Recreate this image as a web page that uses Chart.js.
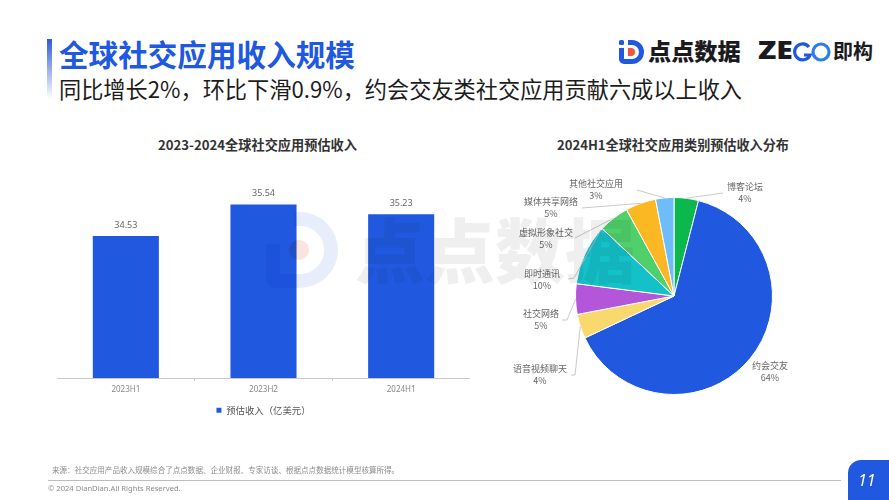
<!DOCTYPE html>
<html lang="zh">
<head>
<meta charset="utf-8">
<title>全球社交应用收入规模</title>
<script src="https://cdn.jsdelivr.net/npm/chart.js@4"></script>
<style>
  html, body { margin:0; padding:0; background:#fff; }
  body { width:889px; height:500px; position:relative; overflow:hidden; font-family:"Noto Sans CJK SC","Noto Sans",sans-serif; }
  .abs { position:absolute; white-space:nowrap; line-height:1; }
  #accent { left:47px; top:39px; width:5px; height:60px; background:linear-gradient(#2f5bd8,rgba(47,91,216,0)); }
  #title { left:59px; top:39px; font-size:29.6px; font-weight:700; color:#2058e0; }
  #subtitle { left:59px; top:77px; font-size:22.2px; color:#1c1c1c; }
  #barTitle { left:158px; top:138px; font-size:13.2px; font-weight:700; color:#333; }
  #pieTitle { left:557px; top:138px; font-size:13.1px; font-weight:700; color:#333; }
  #barBox { position:absolute; left:57px; top:134px; width:413px; height:291px; }
  #pieBox { position:absolute; left:459px; top:132px; width:430px; height:328px; }
  #mark { position:absolute; left:0; top:0; width:889px; height:500px; mix-blend-mode:multiply; pointer-events:none; }
  #markText { left:355px; top:213px; font-size:70px; font-weight:900; color:#efefef; }
  #source { left:52px; top:466px; font-size:7.56px; color:#8c8c8c; }
  #rule { left:48px; top:480px; width:793px; height:1px; background:#bdbdbd; }
  #copy { left:48px; top:485px; font-size:7.6px; color:#8c8c8c; font-family:"Noto Sans",sans-serif; }
  #tab { left:848px; top:460px; width:41px; height:40px; background:#2058e0; border-top-left-radius:13px; }
  #page { left:858px; top:472px; font-size:16px; font-style:italic; color:#fff; font-family:"Noto Sans",sans-serif; }
  #brandA { left:648px; top:39px; font-size:23.2px; font-weight:900; color:#1b1b1f; }
  #brandB { left:758px; top:38px; font-size:24px; font-weight:900; color:#1b1b1f; font-family:"Noto Sans",sans-serif; transform:scaleX(1.25); transform-origin:left center; }
  #brandC { left:833px; top:41px; font-size:20px; font-weight:700; color:#1b1b1f; }
</style>
</head>
<body>
<div id="accent" class="abs"></div>
<div id="title" class="abs">全球社交应用收入规模</div>
<div id="subtitle" class="abs">同比增长2%，环比下滑0.9%，约会交友类社交应用贡献六成以上收入</div>

<svg class="abs" style="left:617px;top:38px" width="29" height="28" viewBox="0 0 29 28">
  <path d="M11 2h4a12 12 0 0 1 0 24H7a5 5 0 0 1-5-5V10h5v11h8a7 7 0 0 0 0-14h-4z" fill="#2058e0"/>
  <rect x="2" y="2" width="5" height="5" rx="1.5" fill="#2058e0"/>
  <path d="M11 10h3a4 4 0 0 1 0 8h-3z" fill="#f0563f"/>
</svg>
<div id="brandA" class="abs">点点数据</div>
<div id="brandB" class="abs">ZE</div>
<svg class="abs" style="left:792px;top:41px" width="40" height="22" viewBox="0 0 40 22">
  <path d="M17 6a8 8 0 1 0 1 8h-6" fill="none" stroke="#2058e0" stroke-width="3.2"/>
  <circle cx="29" cy="11" r="8" fill="none" stroke="#2f7de8" stroke-width="3.2"/>
</svg>
<div id="brandC" class="abs">即构</div>

<div id="barTitle" class="abs">2023-2024全球社交应用预估收入</div>
<div id="pieTitle" class="abs">2024H1全球社交应用类别预估收入分布</div>
<div id="barBox"><canvas id="barChart"></canvas></div>
<div id="pieBox"><canvas id="pieChart"></canvas></div>

<div id="mark">
  <svg class="abs" style="left:260px;top:208px" width="82" height="84" viewBox="0 0 82 84">
    <path d="M34 4h6a38 38 0 0 1 0 76H16a10 10 0 0 1-10-10V36h14v30h20a24 24 0 0 0 0-48h-6z" fill="#e7edfb"/>
    <circle cx="39" cy="42" r="10" fill="#fbe3df"/>
  </svg>
  <div id="markText" class="abs">点点数据</div>
</div>

<div id="source" class="abs">来源：社交应用产品收入规模综合了点点数据、企业财报、专家访谈、根据点点数据统计模型核算所得。</div>
<div id="rule" class="abs"></div>
<div id="copy" class="abs">© 2024 DianDian.All Rights Reserved.</div>
<div id="tab" class="abs"></div>
<div id="page" class="abs">11</div>

<script>
const barCategories = ['2023H1', '2023H2', '2024H1'];
const barValues = [34.53, 35.54, 35.23];
const barSeriesName = '预估收入（亿美元）';
const pieCategories = ['博客论坛', '约会交友', '语音视频聊天', '社交网络', '即时通讯', '虚拟形象社交', '媒体共享网络', '其他社交应用'];
const pieValues = [4, 64, 4, 5, 10, 5, 5, 3];
const pieColors = ['#0cb84b', '#2058e0', '#f9d86e', '#b456d9', '#14c1c9', '#4fd06b', '#fbb822', '#6fbdf8'];

// label spots relative to the pie centre; leader runs from arc (frac along slice) via pts
const pieLabelLayout = [
  { x:71,   y:-109, frac:.5,  pts:[[49,-103]] },
  { x:96,   y:70,   frac:.5,  pts:[] },
  { x:-134, y:73,   frac:.5,  pts:[[-99,79],[-103,79]] },
  { x:-133, y:18,   frac:.5,  pts:[[-107,24],[-112,24]] },
  { x:-132, y:-22,  frac:.97, pts:[[-100,-18],[-106,-17]] },
  { x:-128, y:-63,  frac:.5,  pts:[[-99,-58]] },
  { x:-123, y:-94,  frac:.5,  pts:[[-92,-88]] },
  { x:-78,  y:-112, frac:.5,  pts:[[-37,-106]] },
];

const barLabels = {
  id:'barLabels',
  afterDatasetsDraw(chart){
    const ctx = chart.ctx;
    ctx.save();
    ctx.font = '9px "Noto Sans"';
    ctx.fillStyle = '#666';
    ctx.textAlign = 'center';
    ctx.textBaseline = 'bottom';
    chart.getDatasetMeta(0).data.forEach((bar, i) => {
      ctx.fillText(barValues[i].toFixed(2), bar.x, bar.y - 6);
    });
    ctx.restore();
  }
};

const pieLeaders = {
  id:'pieLeaders',
  afterDatasetsDraw(chart){
    const ctx = chart.ctx;
    const arcs = chart.getDatasetMeta(0).data;
    ctx.save();
    ctx.font = '9px "Noto Sans CJK SC"';
    ctx.textAlign = 'center';
    ctx.textBaseline = 'middle';
    arcs.forEach((arc, i) => {
      const l = pieLabelLayout[i];
      const a = arc.startAngle + (arc.endAngle - arc.startAngle) * l.frac;
      if (l.pts.length) {
        ctx.strokeStyle = '#bdbdbd';
        ctx.lineWidth = 0.8;
        ctx.beginPath();
        ctx.moveTo(arc.x + Math.cos(a) * arc.outerRadius, arc.y + Math.sin(a) * arc.outerRadius);
        l.pts.forEach(p => ctx.lineTo(arc.x + p[0], arc.y + p[1]));
        ctx.stroke();
      }
      ctx.fillStyle = '#666';
      ctx.fillText(pieCategories[i], arc.x + l.x, arc.y + l.y);
      ctx.fillText(pieValues[i] + '%', arc.x + l.x, arc.y + l.y + 11.5);
    });
    ctx.restore();
  }
};

Chart.defaults.animation = false;
Chart.defaults.font.family = '"Noto Sans CJK SC","Noto Sans",sans-serif';

new Chart(document.getElementById('barChart'), {
  type:'bar',
  data:{ labels:barCategories, datasets:[{ label:barSeriesName, data:barValues, backgroundColor:'#2058e0', barPercentage:0.96, categoryPercentage:0.5 }] },
  options:{
    responsive:true, maintainAspectRatio:false,
    layout:{ padding:{ top:56 } },
    plugins:{
      legend:{ display:true, position:'bottom', labels:{ color:'#555', font:{ size:9.4 }, boxWidth:5, boxHeight:5, padding:7 } },
      tooltip:{ enabled:false },
    },
    scales:{
      x:{ grid:{ drawOnChartArea:false, color:'#c9c9c9', tickLength:3 }, border:{ color:'#c9c9c9' }, ticks:{ color:'#888', font:{ size:8, family:'"Noto Sans"' }, padding:4 } },
      y:{ display:false, min:30, max:36 },
    },
  },
  plugins:[barLabels],
});

new Chart(document.getElementById('pieChart'), {
  type:'pie',
  data:{ labels:pieCategories, datasets:[{ data:pieValues, backgroundColor:pieColors, borderColor:'#fff', borderWidth:1, radius:98.5 }] },
  options:{
    responsive:true, maintainAspectRatio:false,
    plugins:{
      legend:{ display:false },
      tooltip:{ enabled:false },
    },
  },
  plugins:[pieLeaders],
});
</script>
</body>
</html>
